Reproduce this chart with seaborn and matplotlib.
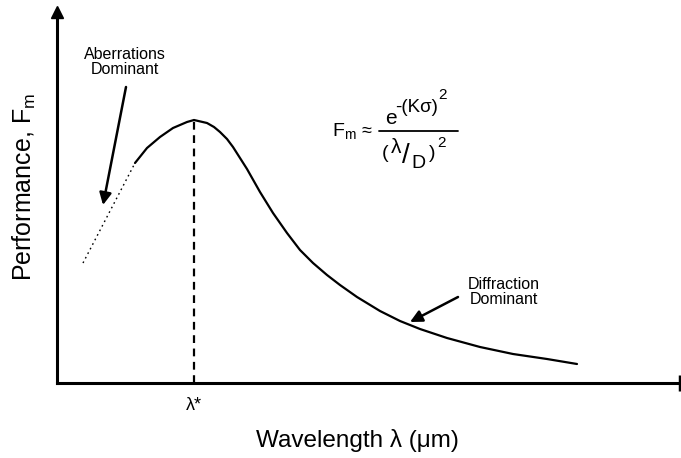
import numpy as np
import pandas as pd
import matplotlib
matplotlib.use("Agg")
import matplotlib.pyplot as plt
import seaborn as sns

# ---- data (arbitrary units) ----
dotted_x = [0.26, 0.52, 0.78]
dotted_y = [1.20, 1.70, 2.20]
solid_x = [0.78, 0.90, 1.03, 1.16, 1.30, 1.37, 1.50, 1.57, 1.63, 1.70, 1.76, 1.83,
           1.90, 2.03, 2.16, 2.30, 2.43, 2.56, 2.70, 2.83, 3.00, 3.23, 3.43, 3.63,
           3.90, 4.23, 4.56, 4.90, 5.20]
solid_y = [2.20, 2.35, 2.46, 2.55, 2.61, 2.63, 2.60, 2.56, 2.51, 2.44, 2.36, 2.25,
           2.14, 1.91, 1.70, 1.50, 1.33, 1.20, 1.08, 0.98, 0.86, 0.72, 0.62, 0.54,
           0.45, 0.36, 0.29, 0.24, 0.19]
peak_x = 1.37
peak_y = 2.63
tick_labels = ["λ*"]

sns.set_style("white")
plt.rcParams["font.family"] = ["Liberation Sans", "DejaVu Sans"]
plt.rcParams["mathtext.fontset"] = "custom"
plt.rcParams["mathtext.rm"] = "Liberation Sans"
plt.rcParams["mathtext.it"] = "Liberation Sans"
plt.rcParams["mathtext.bf"] = "Liberation Sans:bold"
plt.rcParams["text.color"] = "black"
plt.rcParams["axes.labelcolor"] = "black"
plt.rcParams["xtick.color"] = "black"

fig = plt.figure(figsize=(6.81, 4.58), dpi=100)
ax = fig.add_axes([57 / 681, 75 / 458, 623 / 681, 371 / 458])

df_dot = pd.DataFrame({"x": dotted_x, "y": dotted_y})
df_sol = pd.DataFrame({"x": solid_x, "y": solid_y})
sns.lineplot(data=df_dot, x="x", y="y", ax=ax, color="black", lw=1.0,
             linestyle=(0, (1.2, 2.5)), sort=False)
sns.lineplot(data=df_sol, x="x", y="y", ax=ax, color="black", lw=1.6, sort=False)
ax.plot([peak_x, peak_x], [0, peak_y], color="black", lw=1.6, linestyle=(0, (3.5, 2.5)))

ax.set_xlim(0, 6.23)
ax.set_ylim(0, 3.71)
for s in ["top", "right"]:
    ax.spines[s].set_visible(False)
for s in ["left", "bottom"]:
    ax.spines[s].set_linewidth(2.2)
    ax.spines[s].set_color("black")
ax.plot(0, 1, marker="^", color="black", markersize=9, transform=ax.transAxes, clip_on=False)
ax.plot(1, 0, marker="|", color="black", markersize=12, mew=2.5, transform=ax.transAxes, clip_on=False)

ax.set_xticks([peak_x])
ax.set_xticklabels(tick_labels, fontsize=13)
ax.set_yticks([])
ax.tick_params(axis="x", length=0, pad=10)

ax.set_xlabel("Wavelength λ (μm)", fontsize=17.5, va="center")
ax.xaxis.set_label_coords(0.482, -0.154)
ax.set_ylabel("Performance, F$_\\mathrm{m}$", fontsize=18, va="center")
ax.yaxis.set_label_coords(-0.052, 0.528)

# annotations
ax.text(0.68, 3.21, "Aberrations\nDominant", ha="center", va="center",
        fontsize=11.5, linespacing=1.05)
ax.annotate("", xy=(0.46, 1.78), xytext=(0.69, 2.96),
            arrowprops=dict(arrowstyle="-|>", color="black", lw=1.8,
                            mutation_scale=18, shrinkA=0, shrinkB=0))
ax.text(4.47, 0.91, "Diffraction\nDominant", ha="center", va="center",
        fontsize=11.5, linespacing=1.05)
ax.annotate("", xy=(3.53, 0.61), xytext=(4.01, 0.86),
            arrowprops=dict(arrowstyle="-|>", color="black", lw=1.8,
                            mutation_scale=18, shrinkA=0, shrinkB=0))

# formula
ax.text(2.75, 2.52, "F$_\\mathrm{m}$", fontsize=14, ha="left", va="center")
ax.text(3.05, 2.52, "≈", fontsize=13, ha="left", va="center")
ax.plot([3.22, 4.01], [2.52, 2.52], color="black", lw=1.3)
ax.text(3.28, 2.64, "e", fontsize=15, ha="left", va="center")
ax.text(3.38, 2.76, "-(Kσ)", fontsize=13.5, ha="left", va="center")
ax.text(3.81, 2.88, "2", fontsize=11, ha="left", va="center")
ax.text(3.25, 2.30, "(", fontsize=14, ha="left", va="center")
ax.text(3.34, 2.36, "λ", fontsize=15, ha="left", va="center")
ax.text(3.45, 2.27, "/", fontsize=20, ha="left", va="center")
ax.text(3.54, 2.19, "D", fontsize=14, ha="left", va="center")
ax.text(3.72, 2.30, ")", fontsize=14, ha="left", va="center")
ax.text(3.80, 2.40, "2", fontsize=11, ha="left", va="center")

fig.savefig("out.png", dpi=100)
